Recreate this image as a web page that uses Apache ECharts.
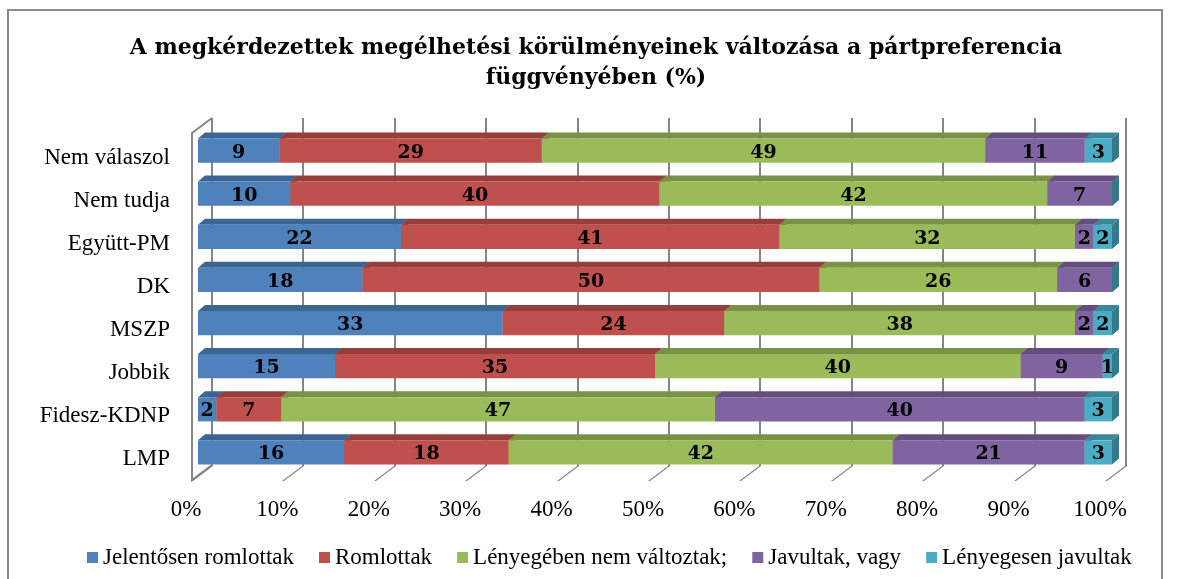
<!DOCTYPE html>
<html>
<head>
<meta charset="utf-8">
<script src="https://cdn.jsdelivr.net/npm/echarts@6/dist/echarts.min.js"></script>
<style>
  html, body { margin: 0; padding: 0; background: #fff; }
  #chart { width: 1192px; height: 579px; }
</style>
</head>
<body>
<div id="chart"></div>
<script>
// party preference categories, top to bottom
const categories = ['Nem válaszol', 'Nem tudja', 'Együtt-PM', 'DK', 'MSZP', 'Jobbik', 'Fidesz-KDNP', 'LMP']
const seriesNames = ['Jelentősen romlottak', 'Romlottak', 'Lényegében nem változtak;', 'Javultak, vagy', 'Lényegesen javultak']
const jelentosenRomlottak = [9, 10, 22, 18, 33, 15, 2, 16]
const romlottak = [29, 40, 41, 50, 24, 35, 7, 18]
const nemValtoztak = [49, 42, 32, 26, 38, 40, 47, 42]
const javultak = [11, 7, 2, 6, 2, 9, 40, 21]
const lenyegesenJavultak = [3, 0, 2, 0, 2, 1, 3, 3]
const xTicks = [0, 10, 20, 30, 40, 50, 60, 70, 80, 90, 100]

const values = [jelentosenRomlottak, romlottak, nemValtoztak, javultak, lenyegesenJavultak]
const colors = [
  { front: '#4F81BD', top: '#3D6594', side: '#365A86' },
  { front: '#C0504D', top: '#963E3C', side: '#873735' },
  { front: '#9BBB59', top: '#799246', side: '#6D843F' },
  { front: '#8064A2', top: '#644E7F', side: '#5A4672' },
  { front: '#4BACC6', top: '#3A879C', side: '#337A8D' }
]
const FONT = '"Liberation Serif", "DejaVu Serif", serif'
const BOLD_FONT = '"DejaVu Serif", "Liberation Serif", serif'
const GRID_COLOR = '#858585'
const PLOT_LEFT = 198
const PLOT_WIDTH = 914

// 100% stacked: normalise each row by its total
const totals = categories.map((c, i) => values.reduce((s, arr) => s + arr[i], 0))
const starts = categories.map(() => 0)
const seriesData = values.map(arr => arr.map((v, i) => {
  const s = starts[i]
  const e = s + v / totals[i] * 100
  starts[i] = e
  return [s, e, i, v]
}))

function renderItem(params, api) {
  const start = api.value(0)
  const end = api.value(1)
  const cat = api.value(2)
  const raw = api.value(3)
  const p0 = api.coord([start, cat])
  const p1 = api.coord([end, cat])
  const h = api.size([0, 1])[1] * 0.56
  const x0 = p0[0]
  const x1 = p1[0]
  const yTop = p0[1] - h / 2
  const yBot = p0[1] + h / 2
  const dx = 7
  const dy = 6
  const c = colors[params.seriesIndex]
  const children = [
    {
      type: 'polygon',
      shape: { points: [[x0, yTop], [x1, yTop], [x1 + dx, yTop - dy], [x0 + dx, yTop - dy]] },
      style: { fill: c.top }
    },
    {
      type: 'polygon',
      shape: { points: [[x1, yTop], [x1 + dx, yTop - dy], [x1 + dx, yBot - dy], [x1, yBot]] },
      style: { fill: c.side }
    },
    {
      type: 'rect',
      shape: { x: x0, y: yTop, width: x1 - x0, height: h },
      style: { fill: c.front }
    }
  ]
  if (raw > 0) {
    children.push({
      type: 'text',
      style: {
        text: String(raw),
        x: (x0 + x1) / 2,
        y: p0[1] + 2,
        align: 'center',
        verticalAlign: 'middle',
        font: 'bold 19px ' + BOLD_FONT,
        fill: '#000'
      }
    })
  }
  return { type: 'group', children: children }
}

// back wall gridlines and floor slants as thin filled shapes
const wall = []
xTicks.forEach(t => {
  const px = Math.round(PLOT_LEFT + t / 100 * PLOT_WIDTH)
  wall.push({
    type: 'rect',
    shape: { x: px + 13, y: 118, width: 2, height: 348 },
    style: { fill: GRID_COLOR },
    silent: true
  })
  wall.push({
    type: 'polygon',
    shape: { points: [[px - 7, 481], [px - 5, 481], [px + 15, 466], [px + 13, 466]] },
    style: { fill: GRID_COLOR },
    silent: true
  })
})

const chart = echarts.init(document.getElementById('chart'))
chart.setOption({
  backgroundColor: '#fff',
  animation: false,
  title: {
    text: 'A megkérdezettek megélhetési körülményeinek változása a pártpreferencia\nfüggvényében (%)',
    left: 'center',
    top: 28,
    textStyle: { fontFamily: BOLD_FONT, fontSize: 22, fontWeight: 'bold', color: '#000', lineHeight: 30 }
  },
  legend: {
    top: 541,
    left: 82,
    icon: 'rect',
    itemWidth: 11,
    itemHeight: 11,
    itemGap: 25,
    textStyle: { fontFamily: FONT, fontSize: 23, color: '#000' },
    data: seriesNames
  },
  grid: { left: PLOT_LEFT, top: 129, width: PLOT_WIDTH, height: 345, show: false },
  xAxis: {
    type: 'value', min: 0, max: 100, interval: 10,
    axisLine: { show: false }, axisTick: { show: false },
    splitLine: { show: false }, splitArea: { show: false },
    axisLabel: {
      formatter: '{value}%', fontFamily: FONT, fontSize: 23, color: '#000',
      margin: 24, padding: [0, 24, 0, 0]
    }
  },
  yAxis: {
    type: 'category', inverse: true, data: categories,
    axisLine: { show: false }, axisTick: { show: false },
    splitLine: { show: false }, splitArea: { show: false },
    axisLabel: { fontFamily: FONT, fontSize: 23, color: '#000', margin: 28, verticalAlign: 'top', lineHeight: 14 }
  },
  graphic: [{
    type: 'rect',
    shape: { x: 8, y: 10, width: 1154, height: 600 },
    style: { fill: 'transparent', stroke: '#8a8a8a', lineWidth: 2 }
  }, {
    type: 'polyline',
    shape: { points: [[212, 118], [192, 133], [192, 480], [212, 465]] },
    style: { fill: 'transparent', stroke: GRID_COLOR, lineWidth: 2 }
  }].concat(wall),
  series: seriesNames.map((name, k) => ({
    name: name,
    type: 'custom',
    z: 5,
    clip: false,
    renderItem: renderItem,
    itemStyle: { color: colors[k].front },
    encode: { x: [0, 1], y: 2 },
    data: seriesData[k]
  }))
})

window.addEventListener('resize', () => chart.resize(), { passive: true })
</script>
</body>
</html>
